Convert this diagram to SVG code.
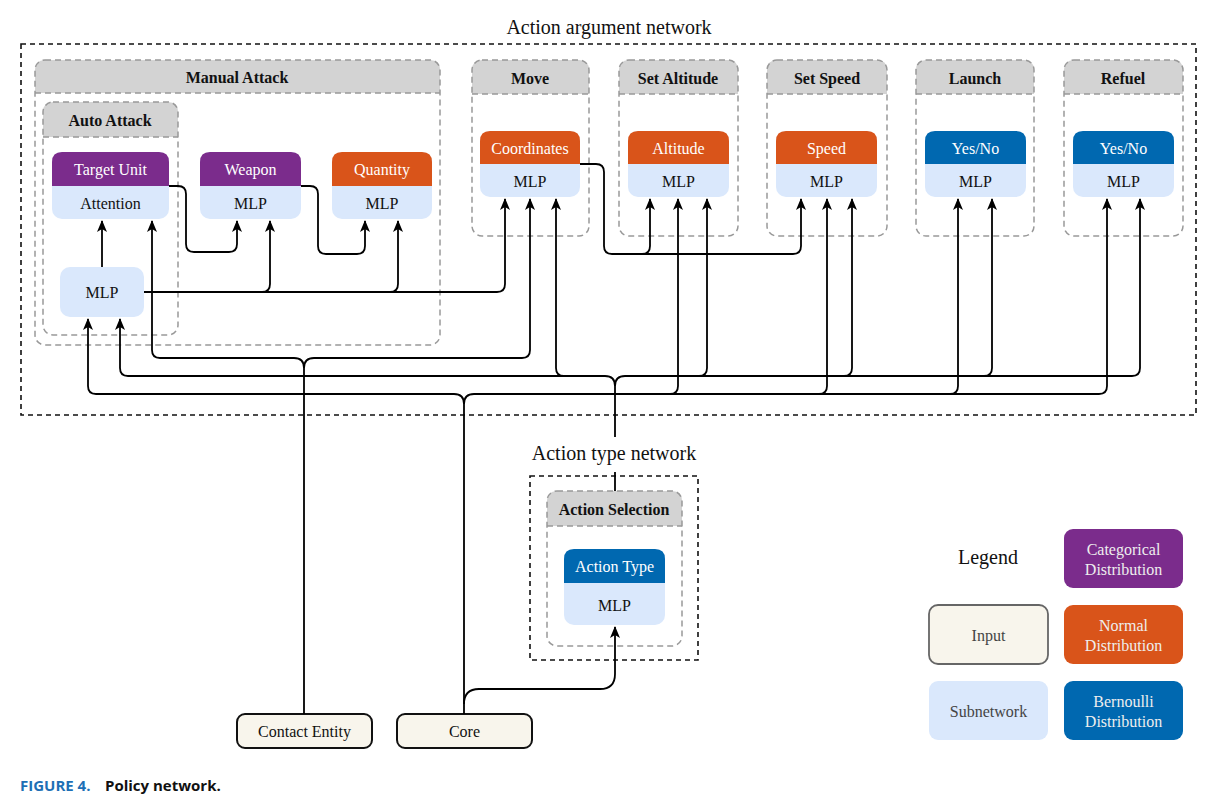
<svg xmlns="http://www.w3.org/2000/svg" width="1209" height="808" viewBox="0 0 1209 808" font-family="'Liberation Serif','Times New Roman',serif">
<defs>
<marker id="ah" viewBox="0 0 12 12" refX="11" refY="6" markerWidth="12" markerHeight="12" markerUnits="userSpaceOnUse" orient="auto">
<path d="M0,1 L12,6 L0,11 L3,6 z" fill="#000"/>
</marker>
<style>
.t{font-family:'Liberation Serif','Times New Roman',serif;font-size:16px;text-anchor:middle;}
.w{fill:#fff;}
.k{fill:#111;}
.h{font-family:'Liberation Serif','Times New Roman',serif;font-size:16px;font-weight:bold;text-anchor:middle;fill:#111;}
.lbl{font-family:'Liberation Serif','Times New Roman',serif;font-size:20px;text-anchor:middle;fill:#111;}
.cap{font-family:'Open Sans','Noto Sans',sans-serif;font-size:15px;font-weight:bold;}
.grp{fill:none;stroke:#999;stroke-width:1.5;stroke-dasharray:6 4;}
.hdr{fill:#d3d3d3;}
.out{fill:none;stroke:#111;stroke-width:1.6;stroke-dasharray:5 4;}
.sub{fill:#dae8fc;}
.cat{fill:#7b2c8c;}
.nor{fill:#d9541a;}
.ber{fill:#0068b0;}
.inp{fill:#f8f5ec;stroke:#111;stroke-width:2;}
.c path{fill:none;stroke:#000;stroke-width:1.8;}
</style>
</defs>
<rect width="1209" height="808" fill="#fff"/>

<!-- outer containers -->
<g id="action-argument-network">
<rect class="out" x="21" y="44" width="1175" height="371"/>
<text class="lbl" x="609" y="34">Action argument network</text>
</g>
<g id="action-type-network">
<rect class="out" x="530" y="476" width="168" height="184"/>
<text class="lbl" x="614" y="460">Action type network</text>
</g>

<!-- groups -->
<g id="grp-manual-attack">
<path class="hdr" d="M35,93 L35,70 Q35,60 45,60 L430,60 Q440,60 440,70 L440,93 z"/>
<rect class="grp" x="35" y="60" width="405" height="285" rx="10"/>
<line class="grp" x1="35" y1="93" x2="440" y2="93"/>
<text class="h" x="237" y="83">Manual Attack</text>
</g>
<g id="grp-auto-attack">
<path class="hdr" d="M43,137 L43,112 Q43,102 53,102 L168,102 Q178,102 178,112 L178,137 z"/>
<rect class="grp" x="43" y="102" width="135" height="233" rx="10"/>
<line class="grp" x1="43" y1="137" x2="178" y2="137"/>
<text class="h" x="110" y="126">Auto Attack</text>
</g>
<g id="grp-move">
<path class="hdr" d="M472,94 L472,70 Q472,60 482,60 L579,60 Q589,60 589,70 L589,94 z"/>
<rect class="grp" x="472" y="60" width="117" height="176" rx="10"/>
<line class="grp" x1="472" y1="94" x2="589" y2="94"/>
<text class="h" x="530" y="84">Move</text>
</g>
<g id="grp-set-altitude">
<path class="hdr" d="M619,94 L619,70 Q619,60 629,60 L728,60 Q738,60 738,70 L738,94 z"/>
<rect class="grp" x="619" y="60" width="119" height="176" rx="10"/>
<line class="grp" x1="619" y1="94" x2="738" y2="94"/>
<text class="h" x="678" y="84">Set Altitude</text>
</g>
<g id="grp-set-speed">
<path class="hdr" d="M767,94 L767,70 Q767,60 777,60 L877,60 Q887,60 887,70 L887,94 z"/>
<rect class="grp" x="767" y="60" width="120" height="176" rx="10"/>
<line class="grp" x1="767" y1="94" x2="887" y2="94"/>
<text class="h" x="827" y="84">Set Speed</text>
</g>
<g id="grp-launch">
<path class="hdr" d="M916,94 L916,70 Q916,60 926,60 L1024,60 Q1034,60 1034,70 L1034,94 z"/>
<rect class="grp" x="916" y="60" width="118" height="176" rx="10"/>
<line class="grp" x1="916" y1="94" x2="1034" y2="94"/>
<text class="h" x="975" y="84">Launch</text>
</g>
<g id="grp-refuel">
<path class="hdr" d="M1064,94 L1064,70 Q1064,60 1074,60 L1173,60 Q1183,60 1183,70 L1183,94 z"/>
<rect class="grp" x="1064" y="60" width="119" height="176" rx="10"/>
<line class="grp" x1="1064" y1="94" x2="1183" y2="94"/>
<text class="h" x="1123" y="84">Refuel</text>
</g>
<g id="grp-action-selection">
<path class="hdr" d="M547,526 L547,501 Q547,491 557,491 L672,491 Q682,491 682,501 L682,526 z"/>
<rect class="grp" x="547" y="491" width="135" height="155" rx="10"/>
<line class="grp" x1="547" y1="526" x2="682" y2="526"/>
<text class="h" x="614" y="515">Action Selection</text>
</g>

<!-- nodes -->
<g id="node-target-unit">
<rect class="sub" x="52" y="152" width="117" height="67" rx="10"/>
<path class="cat" d="M52,186 L52,162 Q52,152 62,152 L159,152 Q169,152 169,162 L169,186 z"/>
<text class="t w" x="110.5" y="175">Target Unit</text>
<text class="t k" x="110.5" y="209">Attention</text>
</g>
<g id="node-weapon">
<rect class="sub" x="200" y="152" width="101" height="67" rx="10"/>
<path class="cat" d="M200,186 L200,162 Q200,152 210,152 L291,152 Q301,152 301,162 L301,186 z"/>
<text class="t w" x="250.5" y="175">Weapon</text>
<text class="t k" x="250.5" y="209">MLP</text>
</g>
<g id="node-quantity">
<rect class="sub" x="332" y="152" width="100" height="67" rx="10"/>
<path class="nor" d="M332,186 L332,162 Q332,152 342,152 L422,152 Q432,152 432,162 L432,186 z"/>
<text class="t w" x="382" y="175">Quantity</text>
<text class="t k" x="382" y="209">MLP</text>
</g>
<g id="node-mlp-auto">
<rect class="sub" x="60" y="267" width="84" height="50" rx="10"/>
<text class="t k" x="102" y="298">MLP</text>
</g>
<g id="node-coordinates">
<rect class="sub" x="480" y="131" width="100" height="66" rx="10"/>
<path class="nor" d="M480,164 L480,141 Q480,131 490,131 L570,131 Q580,131 580,141 L580,164 z"/>
<text class="t w" x="530" y="153.5">Coordinates</text>
<text class="t k" x="530" y="187">MLP</text>
</g>
<g id="node-altitude">
<rect class="sub" x="628" y="131" width="101" height="66" rx="10"/>
<path class="nor" d="M628,164 L628,141 Q628,131 638,131 L719,131 Q729,131 729,141 L729,164 z"/>
<text class="t w" x="678.5" y="153.5">Altitude</text>
<text class="t k" x="678.5" y="187">MLP</text>
</g>
<g id="node-speed">
<rect class="sub" x="776" y="131" width="101" height="66" rx="10"/>
<path class="nor" d="M776,164 L776,141 Q776,131 786,131 L867,131 Q877,131 877,141 L877,164 z"/>
<text class="t w" x="826.5" y="153.5">Speed</text>
<text class="t k" x="826.5" y="187">MLP</text>
</g>
<g id="node-launch-yesno">
<rect class="sub" x="925" y="131" width="101" height="66" rx="10"/>
<path class="ber" d="M925,164 L925,141 Q925,131 935,131 L1016,131 Q1026,131 1026,141 L1026,164 z"/>
<text class="t w" x="975.5" y="153.5">Yes/No</text>
<text class="t k" x="975.5" y="187">MLP</text>
</g>
<g id="node-refuel-yesno">
<rect class="sub" x="1073" y="131" width="101" height="66" rx="10"/>
<path class="ber" d="M1073,164 L1073,141 Q1073,131 1083,131 L1164,131 Q1174,131 1174,141 L1174,164 z"/>
<text class="t w" x="1123.5" y="153.5">Yes/No</text>
<text class="t k" x="1123.5" y="187">MLP</text>
</g>
<g id="node-action-type">
<rect class="sub" x="564" y="549" width="101" height="76" rx="10"/>
<path class="ber" d="M564,583 L564,559 Q564,549 574,549 L655,549 Q665,549 665,559 L665,583 z"/>
<text class="t w" x="614.5" y="572">Action Type</text>
<text class="t k" x="614.5" y="611">MLP</text>
</g>
<g id="node-contact-entity">
<rect class="inp" x="237" y="714" width="135" height="34" rx="8"/>
<text class="t k" x="304.5" y="737">Contact Entity</text>
</g>
<g id="node-core">
<rect class="inp" x="397" y="714" width="135" height="34" rx="8"/>
<text class="t k" x="464.5" y="737">Core</text>
</g>

<!-- legend -->
<g id="legend">
<text class="lbl" x="988" y="564">Legend</text>
<rect class="cat" x="1064" y="529" width="119" height="59" rx="9"/>
<text class="t" x="1123.5" y="555" fill="#eee">Categorical</text>
<text class="t" x="1123.5" y="575" fill="#eee">Distribution</text>
<rect x="929" y="605" width="119" height="59" rx="9" fill="#f8f5ec" stroke="#666" stroke-width="1.8"/>
<text class="t" x="988.5" y="641" fill="#444">Input</text>
<rect class="nor" x="1064" y="605" width="119" height="59" rx="9"/>
<text class="t" x="1123.5" y="631" fill="#eee">Normal</text>
<text class="t" x="1123.5" y="651" fill="#eee">Distribution</text>
<rect class="sub" x="929" y="681" width="119" height="59" rx="9"/>
<text class="t" x="988.5" y="717" fill="#444">Subnetwork</text>
<rect class="ber" x="1064" y="681" width="119" height="59" rx="9"/>
<text class="t" x="1123.5" y="707" fill="#eee">Bernoulli</text>
<text class="t" x="1123.5" y="727" fill="#eee">Distribution</text>
</g>

<!-- connectors -->
<g id="connectors" class="c">
<path d="M102,267 L102,221" marker-end="url(#ah)"/>
<path d="M169,186 L178,186 Q186,186 186,194 L186,244 Q186,252 194,252 L229,252 Q237,252 237,244 L237,221" marker-end="url(#ah)"/>
<path d="M301,186 L310,186 Q318,186 318,194 L318,246 Q318,254 326,254 L357,254 Q365,254 365,246 L365,221" marker-end="url(#ah)"/>
<path d="M144,292 L497,292 Q505,292 505,284 L505,199" marker-end="url(#ah)"/>
<path d="M262,292 Q270,292 270,284 L270,221" marker-end="url(#ah)"/>
<path d="M390,292 Q398,292 398,284 L398,221" marker-end="url(#ah)"/>
<path d="M580,164 L596,164 Q604,164 604,172 L604,246 Q604,254 612,254 L793,254 Q801,254 801,246 L801,199" marker-end="url(#ah)"/>
<path d="M642,254 Q650,254 650,246 L650,199" marker-end="url(#ah)"/>
<path d="M304,714 L304,368 Q304,358 294,358 L160,358 Q152,358 152,350 L152,221" marker-end="url(#ah)"/>
<path d="M304,368 Q304,358 314,358 L522,358 Q530,358 530,350 L530,199" marker-end="url(#ah)"/>
<path d="M615,491 L615,472"/>
<path d="M615,437 L615,386 Q615,376 605,376 L128,376 Q120,376 120,368 L120,319" marker-end="url(#ah)"/>
<path d="M615,386 Q615,376 625,376 L1132,376 Q1140,376 1140,368 L1140,199" marker-end="url(#ah)"/>
<path d="M564,376 Q556,376 556,368 L556,199" marker-end="url(#ah)"/>
<path d="M699,376 Q707,376 707,368 L707,199" marker-end="url(#ah)"/>
<path d="M844,376 Q852,376 852,368 L852,199" marker-end="url(#ah)"/>
<path d="M984,376 Q992,376 992,368 L992,199" marker-end="url(#ah)"/>
<path d="M464,714 L464,404 Q464,394 454,394 L96,394 Q88,394 88,386 L88,319" marker-end="url(#ah)"/>
<path d="M464,404 Q464,394 474,394 L1099,394 Q1107,394 1107,386 L1107,199" marker-end="url(#ah)"/>
<path d="M670,394 Q678,394 678,386 L678,199" marker-end="url(#ah)"/>
<path d="M819,394 Q827,394 827,386 L827,199" marker-end="url(#ah)"/>
<path d="M950,394 Q958,394 958,386 L958,199" marker-end="url(#ah)"/>
<path d="M464,704 Q464,689 479,689 L600,689 Q615,689 615,674 L615,627" marker-end="url(#ah)"/>
</g>

<!-- caption -->
<text class="cap" x="20" y="791" fill="#1d6fb5">FIGURE 4.</text>
<text class="cap" x="105" y="791" fill="#111">Policy network.</text>
</svg>
